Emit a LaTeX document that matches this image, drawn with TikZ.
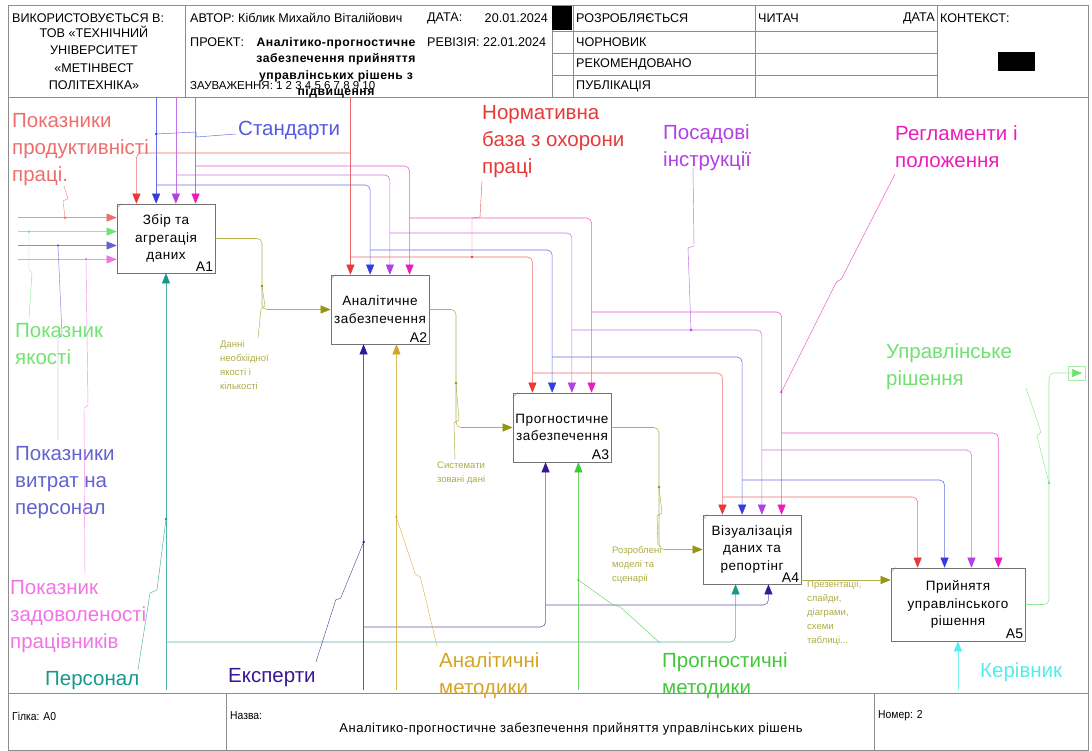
\documentclass[tikz,border=0pt]{standalone}
\usepackage{fontspec}
\setmainfont{Liberation Sans}
\newfontfamily\boxfont[LetterSpace=4]{Liberation Sans}
\newfontfamily\narrowfont[FakeStretch=0.9]{Liberation Sans}
\usetikzlibrary{arrows.meta,calc}

\definecolor{ctlR}{RGB}{232,56,56}
\definecolor{ctlB}{RGB}{52,62,220}
\definecolor{ctlV}{RGB}{178,64,228}
\definecolor{ctlM}{RGB}{236,28,188}
\definecolor{inS}{RGB}{238,110,108}
\definecolor{inG}{RGB}{112,228,112}
\definecolor{inC}{RGB}{98,98,210}
\definecolor{inP}{RGB}{240,116,228}
\definecolor{meT}{RGB}{24,152,140}
\definecolor{meE}{RGB}{56,24,144}
\definecolor{meA}{RGB}{214,164,32}
\definecolor{meG}{RGB}{64,200,56}
\definecolor{meK}{RGB}{84,236,236}
\definecolor{olv}{RGB}{150,150,20}
\definecolor{olvT}{RGB}{172,172,72}
\definecolor{outG}{RGB}{112,224,112}
\definecolor{frm}{RGB}{140,140,140}

\begin{document}
\begin{tikzpicture}
[x=1pt,y=-1pt,every node/.style={inner sep=0pt},
box/.style={draw=black!55,line width=.6pt,minimum width=98pt,minimum height=69pt,align=center,font=\boxfont\fontsize{13.5}{17.5}\selectfont},
num/.style={anchor=south east,inner sep=2pt,font=\fontsize{14}{14}\selectfont},
hd/.style={anchor=west,font=\fontsize{12.6}{14}\selectfont},
ft/.style={anchor=west,font=\narrowfont\fontsize{11.5}{14}\selectfont},
big/.style={anchor=north west,align=left,text=#1,font=\fontsize{20.5}{27}\selectfont},
sml/.style={anchor=north west,align=left,text=olvT,font=\fontsize{9.5}{14}\selectfont},
ln/.style={draw=#1!75,line width=.55pt,rounded corners=5pt,-{Triangle[length=10pt,width=8pt,color=#1]}},
lead/.style={draw=#1!80,line width=.45pt}]
\useasboundingbox (0,0) rectangle (1092,751);

\draw[frm,line width=.6pt] (8,5) rectangle (1088,750);
\draw[frm,line width=.6pt] (8,97) -- (1088,97);
\draw[frm,line width=.6pt] (8,693) -- (1088,693);
\foreach \vx in {185,552,573,755,937}
\draw[frm,line width=.6pt] (\vx,5) -- (\vx,97);
\foreach \vy in {31,53,75}
\draw[frm,line width=.6pt] (552,\vy) -- (937,\vy);
\draw[frm,line width=.6pt] (226,693) -- (226,750);
\draw[frm,line width=.6pt] (874,693) -- (874,750);
\fill[black] (552,6) rectangle (572,30);
\fill[black] (998,52) rectangle (1035,71);

\node[hd] (h1) at (12,18) {ВИКОРИСТОВУЄТЬСЯ В:};
\node[anchor=north,align=center,font=\fontsize{12.6}{17.3}\selectfont] (h2) at (94,26) {ТОВ «ТЕХНІЧНИЙ\\УНІВЕРСИТЕТ\\«МЕТІНВЕСТ\\ПОЛІТЕХНІКА»};
\node[hd] (h3) at (190,18) {АВТОР: Кіблик Михайло Віталійович};
\node[hd] (h4) at (427,18) {ДАТА:};
\node[hd,anchor=east] (h5) at (548,18) {20.01.2024};
\node[hd] (h6) at (190,42) {ПРОЕКТ:};
\node[anchor=north,align=center,font=\boxfont\bfseries\fontsize{12.2}{16.5}\selectfont] (h7) at (336,37) {Аналітико-прогностичне\\забезпечення прийняття\\управлінських рішень з\\підвищення};
\node[hd] (h8) at (427,42) {РЕВІЗІЯ: 22.01.2024};
\node[hd,font=\fontsize{11.5}{14}\selectfont] (h9) at (190,86) {ЗАУВАЖЕННЯ: 1 2 3 4 5 6 7 8 9 10};
\node[hd] (h10) at (576,18) {РОЗРОБЛЯЄТЬСЯ};
\node[hd] (h11) at (576,42) {ЧОРНОВИК};
\node[hd] (h12) at (576,64) {РЕКОМЕНДОВАНО};
\node[hd] (h13) at (576,86) {ПУБЛІКАЦІЯ};
\node[hd] (h14) at (758,18) {ЧИТАЧ};
\node[hd,anchor=east] (h15) at (935,18) {ДАТА};
\node[hd] (h16) at (940,18) {КОНТЕКСТ:};
\node[ft] (f1) at (12,716) {Гілка: A0};
\node[ft] (f2) at (230,716) {Назва:};
\node[anchor=center,font=\boxfont\fontsize{13}{14}\selectfont] (f3) at (571,729) {Аналітико-прогностичне забезпечення прийняття управлінських рішень};
\node[ft] (f4) at (878,716) {Номер: 2};

\node[box] (A1) at (166,238.5) {Збір та\\агрегація\\даних};
\node[box] (A2) at (380,309.5) {Аналітичне\\забезпечення};
\node[box] (A3) at (562,427.5) {Прогностичне\\забезпечення};
\node[box] (A4) at (752,549.5) {Візуалізація\\даних та\\репортінг};
\node[box,minimum width=134pt,minimum height=73pt] (A5) at (958,604.5) {Прийнятя\\управлінського\\рішення};
\foreach \bx in {A1,A2,A3,A4,A5}{
\node[num] (\bx n) at (\bx.south east) {\bx};
\draw[black!50,line width=.4pt] ($(\bx.north west)+(0,5)$) -- ($(\bx.north west)+(5,0)$);
\foreach \k/\f in {1/.2,2/.4,3/.6,4/.8}{
\coordinate (\bx c\k) at ($(\bx.north west)!\f!(\bx.north east)$);
\coordinate (\bx i\k) at ($(\bx.north west)!\f!(\bx.south west)$);
}
\coordinate (\bx m1) at ($(\bx.south west)!.3333!(\bx.south east)$);
\coordinate (\bx m2) at ($(\bx.south west)!.6667!(\bx.south east)$);
}

\coordinate (hB) at (0,97);
\coordinate (fB) at (0,690);
\coordinate (lB) at (18,0);

\coordinate (rJ1) at (350.6,153);
\coordinate (rJ2) at (350.6,257);
\coordinate (rJ3) at (532.6,373);
\coordinate (rJ4) at (722.6,497);
\coordinate (bJ1) at (156.2,185);
\coordinate (bJ2) at (370.2,250);
\coordinate (bJ3) at (552.2,357);
\coordinate (bJ4) at (742.2,480);
\coordinate (vJ1) at (175.8,175);
\coordinate (vJ2) at (389.8,233);
\coordinate (vJ3) at (571.8,330);
\coordinate (vJ4) at (761.8,450);
\coordinate (mJ1) at (195.4,166);
\coordinate (mJ2) at (409.4,218);
\coordinate (mJ3) at (591.4,312);
\coordinate (mJ4) at (781.4,433);

\draw[ln=ctlR] (A2c1 |- hB) -- (A2c1);
\draw[ln=ctlB] (A1c2 |- hB) -- (A1c2);
\draw[ln=ctlV] (A1c3 |- hB) -- (A1c3);
\draw[ln=ctlM] (A1c4 |- hB) -- (A1c4);
\foreach \cl/\from/\to in {ctlR/rJ1/A1c1,ctlR/rJ2/A3c1,ctlR/rJ3/A4c1,ctlR/rJ4/A5c1,
ctlB/bJ1/A2c2,ctlB/bJ2/A3c2,ctlB/bJ3/A4c2,ctlB/bJ4/A5c2,
ctlV/vJ1/A2c3,ctlV/vJ2/A3c3,ctlV/vJ3/A4c3,ctlV/vJ4/A5c3,
ctlM/mJ1/A2c4,ctlM/mJ2/A3c4,ctlM/mJ3/A4c4,ctlM/mJ4/A5c4}
\draw[ln=\cl] (\from) -| (\to);

\foreach \cl/\to in {inS/A1i1,inG/A1i2,inC/A1i3,inP/A1i4}
\draw[ln=\cl] (\to -| lB) -- (\to);

\coordinate (pJ) at (166,642);
\coordinate (eJ1) at (363.7,627);
\coordinate (eJ2) at (545.7,605);
\draw[ln=meT] (A1.south |- fB) -- (A1.south);
\draw[ln=meT] (pJ) -| (A4m1);
\draw[ln=meE] (A2m1 |- fB) -- (A2m1);
\draw[ln=meE] (eJ1) -| (A3m1);
\draw[ln=meE] (eJ2) -| (A4m2);
\draw[ln=meA] (A2m2 |- fB) -- (A2m2);
\draw[ln=meG] (A3m2 |- fB) -- (A3m2);
\draw[ln=meK] (A5.south |- fB) -- (A5.south);

\coordinate (o1) at (262,286);
\coordinate (o2) at (456,383);
\coordinate (o3) at (659,487);
\coordinate (o4) at (801,580);
\coordinate (o5) at (1049,483);
\coordinate (uEnd) at (1082,373);
\draw[ln=olv] (A1.east) -| (o1) |- (A2.west);
\draw[ln=olv] (A2.east) -| (o2) |- (A3.west);
\draw[ln=olv] (A3.east) -| (o3) |- (A4.west);
\draw[ln=olv] (o4) -- (o4 -| A5.west);
\draw[ln=outG] (A5.east) -| (o5) |- (uEnd);
\draw[outG!60,line width=.4pt] (1068,366) rectangle (1085,380);

\node[big=inS] (lProd) at (12,113.5) {Показники\\продуктивністі\\праці.};
\node[big=ctlB!85] (lSt) at (238,120.5) {Стандарти};
\node[big=ctlR] (lN) at (482,105.5) {Нормативна\\база з охорони\\праці};
\node[big=ctlV] (lPo) at (663,124) {Посадові\\інструкції};
\node[big=ctlM] (lR) at (895,125) {Регламенти і\\положення};
\node[big=outG] (lU) at (886,343.5) {Управлінське\\рішення};
\node[big=inG] (lQ) at (15,323.5) {Показник\\якості};
\node[big=inC] (lC) at (15,446.5) {Показники\\витрат на\\персонал};
\node[big=inP] (lS) at (10,580.5) {Показник\\задоволеності\\працівників};
\node[big=meT] (lPe) at (45,671.5) {Персонал};
\node[big=meE] (lE) at (228,668.5) {Експерти};
\node[big=meA] (lA) at (439,652.5) {Аналітичні\\методики};
\node[big=meG] (lG) at (662,652.5) {Прогностичні\\методики};
\node[big=meK] (lK) at (980,662) {Керівник};
\node[sml] (sD) at (220,340) {Данні\\необхіідної\\якості і\\кількості};
\node[sml] (sS) at (437,462) {Системати\\зовані дані};
\node[sml] (sR) at (612,546) {Розроблені\\моделі та\\сценарії};
\node[sml] (sP) at (807,580) {Презентації,\\слайди,\\діаграми,\\схеми\\таблиці...};

\coordinate (dP) at (65,217.8);
\coordinate (dQ) at (29,231.6);
\coordinate (dC) at (58,245.4);
\coordinate (dS) at (86,259.2);
\coordinate (dSt) at (156.2,134);
\coordinate (dN) at (472,257);
\coordinate (dPo) at (691,330);
\coordinate (dR) at (781.4,392);
\coordinate (dPe) at (166,519);
\coordinate (dE) at (363.7,542);
\coordinate (dA) at (396.3,517);
\coordinate (dG) at (578.3,580);
\coordinate (qP) at (64,186);
\coordinate (qQ) at (29,318);
\coordinate (qC) at (58,440);
\coordinate (qS) at (85,575);
\coordinate (qSt) at (236,134);
\coordinate (qN) at (482,181);
\coordinate (qPo) at (693,168);
\coordinate (qR) at (895,174);
\coordinate (qU) at (1026,388);
\coordinate (q1) at (258,338);
\coordinate (q2) at (455,460);
\coordinate (q3) at (658,546);
\coordinate (qPe) at (138,670);
\coordinate (qE) at (316,662);
\coordinate (qA) at (437,646);
\coordinate (qG) at (660,643);

\draw[lead=inS] (dP) -- ++(-2,-17) -- ++(5,-2) -- (qP);
\draw[lead=inG] (dQ) -- ++(0,38) -- ++(3,3) -- (qQ);
\draw[lead=inC] (dC) -- ++(4,89) -- ++(-4,4) -- (qC);
\draw[lead=inP] (dS) -- ++(2,146) -- ++(-4,3) -- (qS);
\draw[lead=ctlB] (dSt) -- ++(40,-2) -- ++(0,5) -- (qSt);
\draw[lead=ctlR] (dN) -- ++(0,-39) -- ++(8,-1) -- (qN);
\draw[lead=ctlV] (dPo) -- ++(-3,-82) -- ++(6,-2) -- (qPo);
\draw[lead=ctlM] (dR) -- ++(55,-110) -- ++(5,-3) -- (qR);
\draw[lead=outG] (o5) -- ++(-12,-47) -- ++(4,-4) -- (qU);
\draw[lead=olv] (o1) -- ++(3,20) -- ++(-4,3) -- (q1);
\draw[lead=olv] (o2) -- ++(3,37) -- ++(-5,3) -- (q2);
\draw[lead=olv] (o3) -- ++(3,26) -- ++(-5,3) -- (q3);
\draw[lead=meT] (dPe) -- ++(-9,71) -- ++(-7,3) -- (qPe);
\draw[lead=meE] (dE) -- ++(-23,56) -- ++(-5,2) -- (qE);
\draw[lead=meA] (dA) -- ++(19,57) -- ++(5,3) -- (qA);
\draw[lead=meG] (dG) -- ++(35,25) -- ++(7,2) -- (qG);

\foreach \cl/\d in {inS/dP,inG/dQ,inC/dC,inP/dS,ctlB/dSt,ctlR/dN,ctlV/dPo,ctlM/dR,outG/o5,olv/o1,olv/o2,olv/o3,meT/dPe,meE/dE,meA/dA,meG/dG}
\fill[\cl] (\d) circle (1.3);
\end{tikzpicture}
\end{document}
